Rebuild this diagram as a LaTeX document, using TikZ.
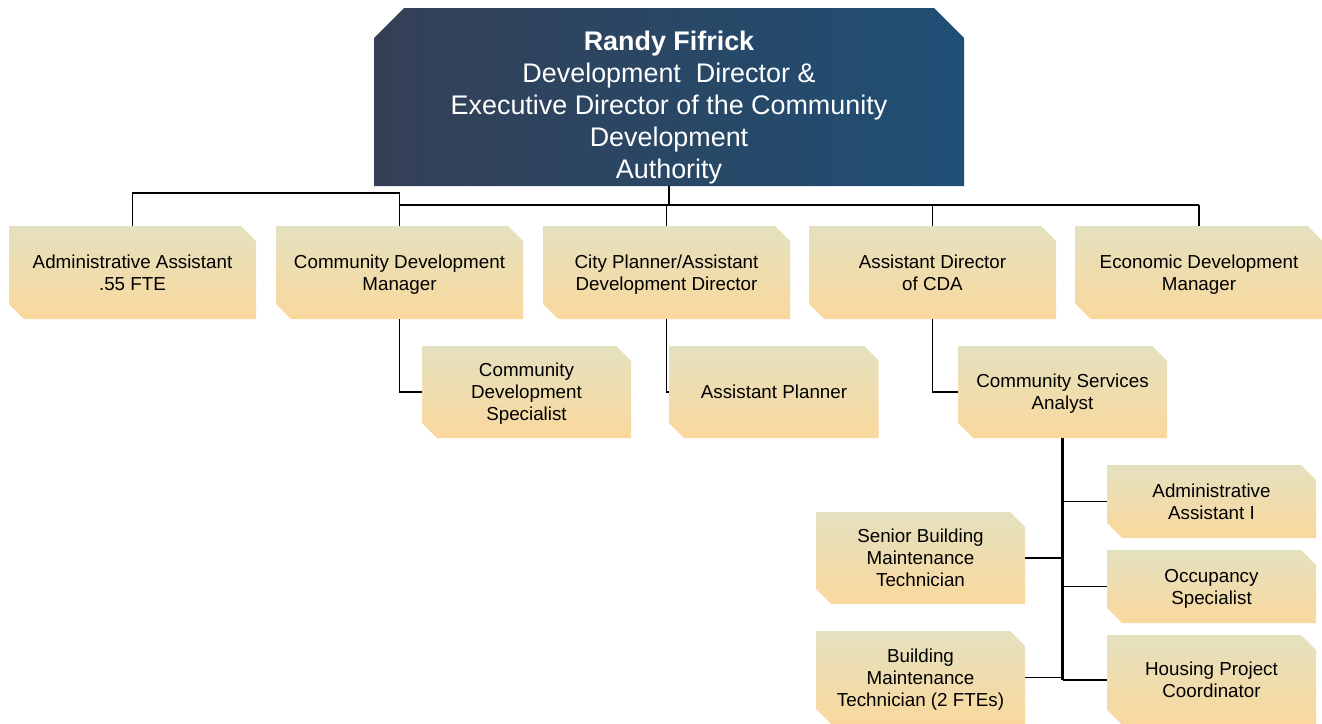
\documentclass[tikz,border=0pt]{standalone}
\usepackage{fontspec}
\setmainfont{Liberation Sans}
\usetikzlibrary{shapes.misc}

\definecolor{navyleft}{HTML}{343F55}
\definecolor{navyright}{HTML}{1F4F75}
\definecolor{postTop}{HTML}{E4E1BF}
\definecolor{postBottom}{HTML}{FAD89D}

\tikzset{
	headbox/.style={chamfered rectangle, chamfered rectangle corners={north west,north east},
		chamfered rectangle sep=15pt, left color=navyleft, right color=navyright,
		text=white, align=center, inner xsep=0pt, inner ysep=-7.5pt,
		font=\fontsize{26.9}{32}\selectfont, text height=163pt, text depth=0pt,
		minimum width=590pt, minimum height=178pt},
	post/.style={chamfered rectangle, chamfered rectangle corners={north east,south west},
		chamfered rectangle sep=7.5pt, top color=postTop, bottom color=postBottom,
		align=center, inner sep=0pt, font=\fontsize{18.8}{22}\selectfont,
		text depth=0pt, minimum width=209pt, minimum height=92pt},
	wide/.style={minimum width=247pt, minimum height=93pt},
	short/.style={minimum height=73pt},
	link/.style={line width=1.8pt},
	stem/.style={line width=2.8pt}
}

\begin{document}
\begin{tikzpicture}[x=1pt, y=-1pt]
		\useasboundingbox (0,0) rectangle (1322,723);

		% Director
		\node[headbox] (dir) at (669, 97) {\textbf{Randy Fifrick}\\Development~~Director \&\\Executive Director of the Community\\Development\\Authority};

		% First row
		\node[post, wide] (admin) at (132.5, 272.5) {Administrative Assistant\\.55 FTE};
		\node[post, wide] (cdm) at (399.5, 272.5) {Community Development\\Manager};
		\node[post, wide] (planner) at (666.5, 272.5) {City Planner/Assistant\\Development Director};
		\node[post, wide] (asstdir) at (932.5, 272.5) {Assistant Director\\of CDA};
		\node[post, wide] (econ) at (1199, 272.5) {Economic Development\\Manager};

		% Second row
		\node[post] (cdspec) at (526.5, 392) {Community\\Development\\Specialist};
		\node[post] (asstplan) at (774, 392) {Assistant Planner};
		\node[post] (csa) at (1062.5, 392) {Community Services\\Analyst};

		% Under the analyst
		\node[post, short] (admin1) at (1211.5, 501.5) {Administrative\\Assistant I};
		\node[post, short] (occ) at (1211.5, 586.5) {Occupancy\\Specialist};
		\node[post, minimum height=90pt] (housing) at (1211.5, 680) {Housing Project\\Coordinator};
		\node[post] (sbmt) at (920.5, 558) {Senior Building\\Maintenance\\Technician};
		\node[post, minimum height=93pt] (bmt) at (920.5, 677.5) {Building\\Maintenance\\Technician (2 FTEs)};

		% Lines
		\coordinate (bus) at (669, 205);
		\coordinate (adminbus) at (399.5, 193);
		\draw[link] (dir.south) -- (dir.south |- bus);
		\draw[link] (cdm.north |- bus) -- (econ.north |- bus);
		\foreach \n in {cdm, planner, asstdir, econ}
			\draw[link] (\n.north) -- (\n.north |- bus);
		\draw[link] (admin.north) |- (adminbus) -- (cdm.north |- bus);

		\draw[link] (cdm.south) |- (cdspec.west);
		\draw[link] (planner.south) |- (asstplan.west);
		\draw[link] (asstdir.south) |- (csa.west);

		\draw[stem] (csa.south) -- (csa.south |- housing.west);
		\foreach \n in {admin1, occ, housing}
			\draw[link] (\n.west) -- (\n.west -| csa.south);
		\foreach \n in {sbmt, bmt}
			\draw[link] (\n.east) -- (\n.east -| csa.south);

	\end{tikzpicture}
\end{document}
